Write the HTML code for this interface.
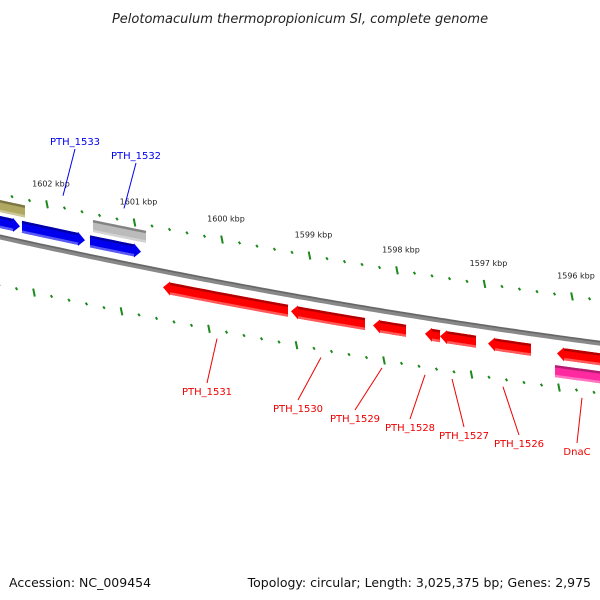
<!DOCTYPE html>
<html><head><meta charset="utf-8"><style>
body{margin:0;background:#fff;width:600px;height:600px;overflow:hidden}
svg{display:block;font-family:"DejaVu Sans","Liberation Sans",sans-serif}
</style></head><body>
<svg id="map" width="600" height="600" viewBox="0 0 600 600">
<text x="300" y="23" text-anchor="middle" font-size="13" font-style="italic" fill="#222">Pelotomaculum thermopropionicum SI, complete genome</text>
<text x="9" y="587" font-size="12.5" fill="#111">Accession: NC_009454</text>
<text x="591" y="587" text-anchor="end" font-size="12.5" fill="#111">Topology: circular; Length: 3,025,375 bp; Genes: 2,975</text>
<g id="g"></g>
</svg>
<script>
// data
const tickKbp = [1602,1601,1600,1599,1598,1597,1596];
const geneNames = ["g0","g1","PTH_1533","PTH_1532","PTH_1531","PTH_1530","PTH_1529","PTH_1528","g8","PTH_1527","PTH_1526","DnaC","g12"];
const geneStart = [1602.537,1602.537,1602.286,1601.509,1600.674,1599.211,1598.274,1597.680,1597.509,1596.960,1596.171,1601.474,1596.194];
const geneEnd   = [1602.309,1602.251,1601.566,1600.926,1599.246,1598.366,1597.897,1597.509,1597.097,1596.469,1595.680,1600.869,1595.680];
const geneTrack = [-1,-2,-1,-1,1,1,1,1,1,1,1,-2,2];
const geneColor = ["#0000ee","#b0a860","#0000ee","#0000ee","#ff0000","#ff0000","#ff0000","#ff0000","#ff0000","#ff0000","#ff0000","#bbbbbb","#ff2aa0"];
const geneArrow = [1,0,1,1,1,1,1,1,1,1,1,0,0];
const labels = ["PTH_1533","PTH_1532","PTH_1531","PTH_1530","PTH_1529","PTH_1528","PTH_1527","PTH_1526","DnaC"];
const labelKbp = [1601.817,1601.12,1600.057,1598.869,1598.171,1597.68,1597.371,1596.789,1595.886];
const labelPos = [[75,145],[136,159],[207,395],[298,412],[355,422],[410,431],[464,439],[519,447],[577,455]];
const svg=document.getElementById('g');const NS="http://www.w3.org/2000/svg";
function X(k){return 47+(1602-k)*87.5;}
function Y(x){return 237+0.222*x-7.5e-5*x*x;}
const trackOff={"-2":-31,"-1":-15,"1":16,"2":34};
function el(t,a){const e=document.createElementNS(NS,t);for(const k in a)e.setAttribute(k,a[k]);svg.appendChild(e);return e;}
let d="";for(let x=-5;x<=605;x+=5)d+=(x==-5?"M":"L")+x+","+Y(x).toFixed(1);
let b=el("path",{d:d,stroke:"#888",fill:"none","stroke-width":5});

b=el("path",{d:d,stroke:"#666",fill:"none","stroke-width":1.5,transform:"translate(0,-1.5)"});

for(const row of [{o:-43,s:0},{o:48,s:-13}]){
 for(let k=1603.2;k>=1595.4;k-=0.2){
  const kk=Math.round(k*10)/10;const x=X(kk)+row.s;if(x<-2||x>602)continue;
  const y=Y(x)+row.o+(row.o>0?(x/600)*2:0);
  const maj=Math.abs(kk-Math.round(kk))<0.01;
  const t=el("line",{x1:x-0.8,y1:y-(maj?4:1.2),x2:x+0.8,y2:y+(maj?4:1.2),stroke:"#1a8a1a","stroke-width":2});
  
  
 }
}
tickKbp.forEach(k=>{const x=X(k);const t=el("text",{x:x+4,y:Y(x)-61,"text-anchor":"middle","font-size":"8",fill:"#222"});t.textContent=k+" kbp";
 });
function shade(c,f){const n=parseInt(c.slice(1),16);let r=n>>16,g=(n>>8)&255,bb=n&255;
 const m=v=>Math.max(0,Math.min(255,Math.round(f>0?v+(255-v)*f:v*(1+f))));return `rgb(${m(r)},${m(g)},${m(bb)})`;}
geneNames.forEach((n,i)=>{
 let x1=X(geneStart[i]),x2=X(geneEnd[i]);const off=trackOff[geneTrack[i]];const h=6;
 const dir=geneTrack[i]<0?1:-1;
 let a=Math.min(x1,x2),z=Math.max(x1,x2);
 const hl=geneArrow[i]?7:0;
 const tipX=dir>0?z:a, baseX=dir>0?z-hl:a+hl, tailX=dir>0?a:z;
 const top=[],bot=[];
 for(let j=0;j<=10;j++){const x=tailX+(baseX-tailX)*j/10;top.push([x,Y(x)+off-h]);bot.push([x,Y(x)+off+h]);}
 let poly=top.concat(geneArrow[i]?[[baseX,Y(baseX)+off-h-1],[tipX,Y(tipX)+off],[baseX,Y(baseX)+off+h+1]]:[]).concat(bot.reverse());
 const p=el("polygon",{points:poly.map(q=>q[0].toFixed(1)+","+q[1].toFixed(1)).join(" "),fill:geneColor[i]});
 
 let s="";for(let j=0;j<=10;j++){const x=tailX+(baseX-tailX)*j/10;s+=(j?"L":"M")+x.toFixed(1)+","+(Y(x)+off-h+1.2).toFixed(1);}
 const sd=el("path",{d:s,stroke:shade(geneColor[i],-0.3),"stroke-width":2.4,fill:"none"});
 
 s="";for(let j=0;j<=10;j++){const x=tailX+(baseX-tailX)*j/10;s+=(j?"L":"M")+x.toFixed(1)+","+(Y(x)+off+h-1.2).toFixed(1);}
 const hl2=el("path",{d:s,stroke:shade(geneColor[i],0.35),"stroke-width":2.4,fill:"none"});
 
});
labels.forEach((n,i)=>{
 const blue=i<2;const x=X(labelKbp[i]);const y=Y(x)+(blue?-55:57);
 const [lx,ly]=labelPos[i];const col=blue?"#0000ee":"#ee0000";
 const ln=el("line",{x1:x,y1:y,x2:lx,y2:blue?ly+4:ly-12,stroke:col,"stroke-width":1});
 
 const t=el("text",{x:lx,y:ly,"text-anchor":"middle","font-size":"10",fill:col});t.textContent=n;
 
});
</script>
</body></html>
